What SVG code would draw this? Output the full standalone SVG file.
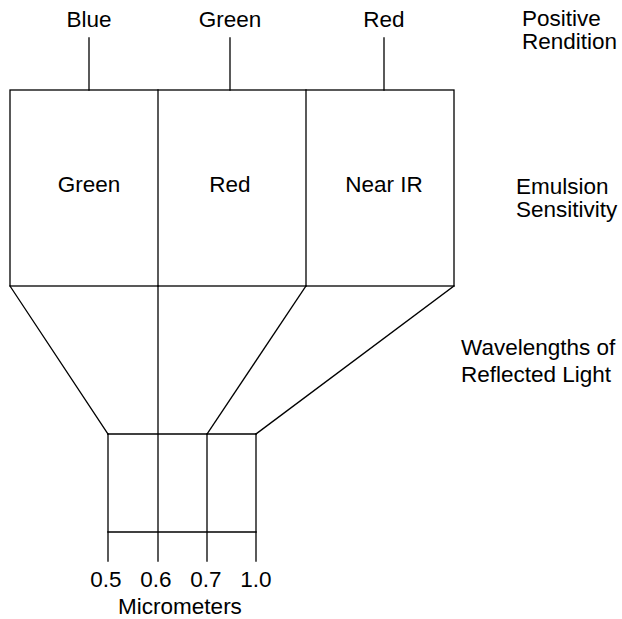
<svg xmlns="http://www.w3.org/2000/svg" width="622" height="619" viewBox="0 0 622 619">
<style>
.ln{stroke:#000;stroke-width:1.3;fill:none;stroke-linecap:square}
text{font-family:"Liberation Sans",Arial,sans-serif;font-size:22.5px;fill:#000}
.m{text-anchor:middle}
</style>
<rect width="622" height="619" fill="#fff"/>
<g id="connectors">
<line class="ln" x1="89" y1="38" x2="89" y2="90"/>
<line class="ln" x1="230" y1="38" x2="230" y2="90"/>
<line class="ln" x1="384" y1="38" x2="384" y2="90"/>
<line class="ln" x1="10" y1="286" x2="108" y2="434"/>
<line class="ln" x1="306" y1="286" x2="207" y2="434"/>
<line class="ln" x1="454" y1="286" x2="256" y2="434"/>
</g>
<g id="emulsion">
<rect class="ln" x="10" y="90" width="444" height="196"/>
<line class="ln" x1="158" y1="90" x2="158" y2="286"/>
<line class="ln" x1="306" y1="90" x2="306" y2="286"/>
<text class="m" x="89" y="192">Green</text>
<text class="m" x="230" y="192">Red</text>
<text class="m" x="384" y="192">Near IR</text>
</g>
<g id="wavelengths">
<line class="ln" x1="108" y1="434" x2="256" y2="434" style="stroke-width:1.5"/>
<line class="ln" x1="108" y1="532" x2="256" y2="532" style="stroke-width:1.5"/>
<line class="ln" x1="108" y1="434" x2="108" y2="561"/>
<line class="ln" x1="158" y1="286" x2="158" y2="561"/>
<line class="ln" x1="207" y1="434" x2="207" y2="561"/>
<line class="ln" x1="256" y1="434" x2="256" y2="561"/>
<text class="m" x="106" y="587">0.5</text>
<text class="m" x="156" y="587">0.6</text>
<text class="m" x="206" y="587">0.7</text>
<text class="m" x="256" y="587">1.0</text>
<text class="m" x="180" y="614">Micrometers</text>
</g>
<g id="positive">
<text class="m" x="89" y="27">Blue</text>
<text class="m" x="230" y="27">Green</text>
<text class="m" x="384" y="27">Red</text>
</g>
<g id="labels">
<text x="522" y="26">Positive</text>
<text x="522" y="49">Rendition</text>
<text x="516" y="194">Emulsion</text>
<text x="516" y="217">Sensitivity</text>
<text x="461" y="355">Wavelengths of</text>
<text x="461" y="382">Reflected Light</text>
</g>
</svg>
